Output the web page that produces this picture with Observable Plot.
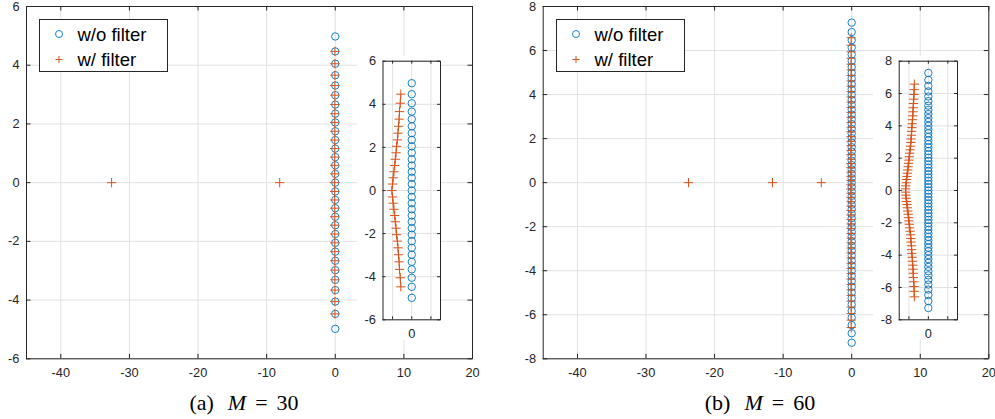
<!DOCTYPE html>
<html>
<head>
<meta charset="utf-8">
<script src="https://cdn.jsdelivr.net/npm/d3@7"></script>
<script src="https://cdn.jsdelivr.net/npm/@observablehq/plot@0.6"></script>
<style>
  body { margin: 0; background: #fff; }
  #root { position: relative; width: 995px; height: 419px; overflow: hidden; background: #fff; }
  .abs { position: absolute; }
  .legend { position: absolute; border: 1px solid #262626; background: #fff; box-sizing: border-box; }
  .caption { position: absolute; font-family: "Liberation Serif", "DejaVu Serif", serif; font-size: 22px; line-height: 22px; color: #000; white-space: nowrap; text-align: center; width: 300px; }
</style>
</head>
<body>
<div id="root"></div>
<script>
// ---------------- data ----------------
// Panel (a), M = 30
const circlesA_y = [4.98, 4.47, 4.05, 3.66, 3.31, 2.98, 2.66, 2.35, 2.05, 1.75, 1.45, 1.16, 0.87, 0.59, 0.30, 0,
  -0.30, -0.59, -0.87, -1.16, -1.45, -1.75, -2.05, -2.35, -2.66, -2.98, -3.31, -3.66, -4.05, -4.47, -4.98];
const crossesA_y = [4.47, 4.05, 3.66, 3.31, 2.98, 2.66, 2.35, 2.05, 1.75, 1.45, 1.16, 0.87, 0.59, 0.30, 0,
  -0.30, -0.59, -0.87, -1.16, -1.45, -1.75, -2.05, -2.35, -2.66, -2.98, -3.31, -3.66, -4.05, -4.47];
const crossesA_x = [-0.057, -0.060, -0.064, -0.066, -0.069, -0.072, -0.075, -0.079, -0.082, -0.086, -0.089, -0.093, -0.097, -0.100, -0.104,
  -0.100, -0.097, -0.093, -0.089, -0.086, -0.082, -0.079, -0.075, -0.072, -0.069, -0.066, -0.064, -0.060, -0.057];
const realCrossesA = [-32.6, -8.1];

// Panel (b), M = 60
const circlesB_y = [7.27, 6.84, 6.47, 6.13, 5.82, 5.53, 5.25, 4.99, 4.73, 4.48, 4.24, 4.00, 3.76, 3.54, 3.31,
  3.09, 2.87, 2.66, 2.44, 2.23, 2.02, 1.82, 1.61, 1.41, 1.20, 1.00, 0.80, 0.60, 0.40, 0.20, 0,
  -0.20, -0.40, -0.60, -0.80, -1.00, -1.20, -1.41, -1.61, -1.82, -2.02, -2.23, -2.44, -2.66, -2.87, -3.09,
  -3.31, -3.54, -3.76, -4.00, -4.24, -4.48, -4.73, -4.99, -5.25, -5.53, -5.82, -6.13, -6.47, -6.84, -7.27];
const crossesB_y = [6.58, 6.24, 5.94, 5.65, 5.38, 5.12, 4.87, 4.62, 4.38, 4.13, 3.89, 3.66, 3.42, 3.19, 2.97,
  2.74, 2.52, 2.31, 2.09, 1.88, 1.68, 1.47, 1.27, 1.07, 0.87, 0.68, 0.48, 0.29, 0.10,
  -0.10, -0.29, -0.48, -0.68, -0.87, -1.07, -1.27, -1.47, -1.68, -1.88, -2.09, -2.31, -2.52, -2.74, -2.97,
  -3.19, -3.42, -3.66, -3.89, -4.13, -4.38, -4.62, -4.87, -5.12, -5.38, -5.65, -5.94, -6.24, -6.58];
const crossesB_x = [-0.072, -0.073, -0.074, -0.075, -0.077, -0.078, -0.079, -0.080, -0.082, -0.083, -0.085, -0.086, -0.087, -0.089, -0.090,
  -0.092, -0.094, -0.096, -0.098, -0.100, -0.102, -0.104, -0.106, -0.108, -0.110, -0.112, -0.114, -0.116, -0.117,
  -0.117, -0.116, -0.114, -0.112, -0.110, -0.108, -0.106, -0.104, -0.102, -0.100, -0.098, -0.096, -0.094, -0.092, -0.090,
  -0.089, -0.087, -0.086, -0.085, -0.083, -0.082, -0.080, -0.079, -0.078, -0.077, -0.075, -0.074, -0.073, -0.072];
const realCrossesB = [-23.8, -11.55, -4.43];

// axes / ticks
const mainXTicks = [-40, -30, -20, -10, 0, 10, 20];
const yTicksA = [-6, -4, -2, 0, 2, 4, 6];
const yTicksB = [-8, -6, -4, -2, 0, 2, 4, 6, 8];
const insetXTicks = [-0.1, 0, 0.1];
const seriesNames = ["w/o filter", "w/ filter"];
const captions = [["(a)", "M", "30"], ["(b)", "M", "60"]];

// ---------------- style ----------------
const BLUE = "#0072BD", ORANGE = "#D95319", AX = "#262626", GRID = "#e2e2e2";
const FONT = '"Liberation Sans", Arial, Helvetica, sans-serif';

const root = document.getElementById("root");

function place(el, left, top) {
  const d = document.createElement("div");
  d.className = "abs";
  d.style.left = left + "px";
  d.style.top = top + "px";
  d.appendChild(el);
  root.appendChild(d);
}

function panel(o) {
  const W = o.width - o.ml - o.mr, H = o.height - o.mt - o.mb;
  const tk = o.tick;
  return Plot.plot({
    width: o.width, height: o.height,
    marginLeft: o.ml, marginRight: o.mr, marginTop: o.mt, marginBottom: o.mb,
    x: {domain: o.xDomain, ticks: o.xTicks, tickSize: 0, tickPadding: 9, tickFormat: o.xFormat, label: null},
    y: {domain: o.yDomain, ticks: o.yTicks, tickSize: 0, tickPadding: 7, tickFormat: d => String(d), label: null},
    style: {fontFamily: FONT, fontSize: "12.8px", color: AX, background: o.bg, overflow: "visible"},
    marks: [
      Plot.frame({fill: "white"}),
      Plot.ruleX(o.xTicks, {x: d => d, stroke: GRID, strokeOpacity: 1}),
      Plot.ruleY(o.yTicks, {y: d => d, stroke: GRID, strokeOpacity: 1}),
      Plot.tickX(o.xTicks, {x: d => d, insetTop: H - tk, stroke: AX}),
      Plot.tickX(o.xTicks, {x: d => d, insetBottom: H - tk, stroke: AX}),
      Plot.tickY(o.yTicks, {y: d => d, insetRight: W - tk, stroke: AX}),
      Plot.tickY(o.yTicks, {y: d => d, insetLeft: W - tk, stroke: AX}),
      ...o.marks,
      Plot.frame({stroke: AX, strokeWidth: 1})
    ]
  });
}

function circleMarks(ys) {
  return Plot.dot(ys.map(y => ({x: 0, y})), {x: "x", y: "y", r: 3.7, stroke: BLUE, strokeWidth: 0.9, fill: "none"});
}
function crossTable(xs, ys) { return ys.map((y, i) => ({x: xs[i], y})); }
function crossMarks(table) {
  return Plot.dot(table, {x: "x", y: "y", symbol: "plus", r: 3.1, stroke: ORANGE, strokeWidth: 1});
}

function legend(left) {
  const d = document.createElement("div");
  d.className = "legend";
  d.style.left = left + "px";
  d.style.top = "19px";
  d.style.width = "129px";
  d.style.height = "53px";
  d.innerHTML = `<svg width="127" height="51" style="position:absolute;left:0;top:0;font-family:${FONT.replace(/"/g, "'")}">
    <circle cx="19" cy="14" r="3.5" fill="none" stroke="${BLUE}" stroke-width="0.9"/>
    <path d="M15.5,39.5H22.5M19,36V43" stroke="${ORANGE}" stroke-width="1" fill="none"/>
    <text x="37.5" y="20.5" font-size="18.5" fill="#000">${seriesNames[0]}</text>
    <text x="37.5" y="45.5" font-size="18.5" fill="#000">${seriesNames[1]}</text>
  </svg>`;
  root.appendChild(d);
}

function caption(centerX, parts) {
  const d = document.createElement("div");
  d.className = "caption";
  d.style.left = (centerX - 150) + "px";
  d.style.top = "392px";
  d.innerHTML = `<span>${parts[0]}</span><span style="margin-left:14px;font-style:italic">${parts[1]}</span><span style="margin:0 9px">=</span><span>${parts[2]}</span>`;
  root.appendChild(d);
}

// ---- Panel (a) ----
const tableA = crossTable(crossesA_x, crossesA_y);
place(panel({
  width: 495, height: 380, ml: 26, mr: 23, mt: 6, mb: 21.7, tick: 4.5, bg: "transparent",
  xDomain: [-45, 20], yDomain: [-6, 6], xTicks: mainXTicks, yTicks: yTicksA, xFormat: d => String(d),
  marks: [
    circleMarks(circlesA_y),
    crossMarks(tableA),
    crossMarks(realCrossesA.map(x => ({x, y: 0})))
  ]
}), 0, 0);

place(panel({
  width: 84, height: 284, ml: 25.5, mr: 1, mt: 4.7, mb: 20.7, tick: 3, bg: "white",
  xDomain: [-0.15, 0.15], yDomain: [-6, 6], xTicks: insetXTicks, yTicks: yTicksA, xFormat: d => (d === 0 ? "0" : ""),
  marks: [
    Plot.line(tableA, {x: "x", y: "y", stroke: ORANGE, strokeWidth: 0.8}),
    circleMarks(circlesA_y),
    crossMarks(tableA)
  ]
}), 357, 56);

// ---- Panel (b) ----
const tableB = crossTable(crossesB_x, crossesB_y);
place(panel({
  width: 495, height: 380, ml: 42.7, mr: 6.7, mt: 6, mb: 21.7, tick: 4.5, bg: "transparent",
  xDomain: [-45, 20], yDomain: [-8, 8], xTicks: mainXTicks, yTicks: yTicksB, xFormat: d => String(d),
  marks: [
    circleMarks(circlesB_y),
    crossMarks(tableB),
    crossMarks(realCrossesB.map(x => ({x, y: 0})))
  ]
}), 500, 0);

place(panel({
  width: 85, height: 284, ml: 25.7, mr: 1, mt: 4.7, mb: 20.7, tick: 3, bg: "white",
  xDomain: [-0.15, 0.15], yDomain: [-8, 8], xTicks: insetXTicks, yTicks: yTicksB, xFormat: d => (d === 0 ? "0" : ""),
  marks: [
    Plot.line(tableB, {x: "x", y: "y", stroke: ORANGE, strokeWidth: 0.8}),
    circleMarks(circlesB_y),
    crossMarks(tableB)
  ]
}), 873, 56);

legend(39);
legend(556);
caption(244, captions[0]);
caption(760, captions[1]);
</script>
</body>
</html>
